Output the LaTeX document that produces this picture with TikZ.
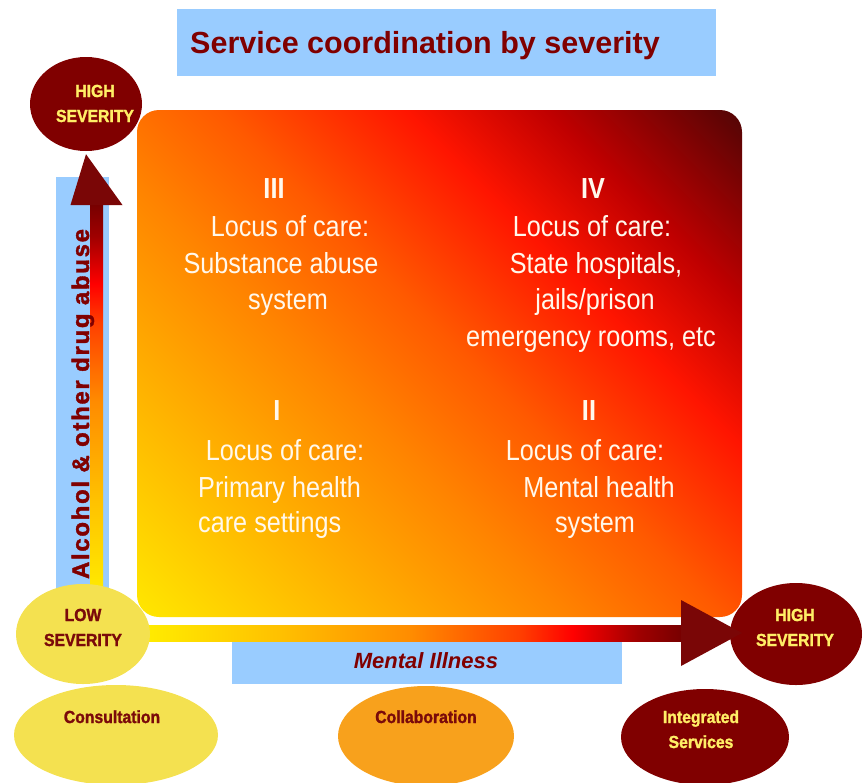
\documentclass[tikz,border=0pt]{standalone}
\usepackage{fontspec}
\setmainfont{Liberation Sans}
\newfontfamily\quadfont[FakeStretch=0.87]{Liberation Sans}
\newfontfamily\quadbold[FakeStretch=0.87]{Liberation Sans Bold}
\newfontfamily\labfont[FakeStretch=0.9,FakeBold=1.5]{Liberation Sans Bold}
\newfontfamily\vertfont[LetterSpace=7,FakeBold=1.5]{Liberation Sans Bold}
\usetikzlibrary{shapes.geometric}
\definecolor{mar}{HTML}{800000}
\definecolor{headc}{HTML}{7A0606}
\definecolor{skyb}{HTML}{99CCFF}
\definecolor{ylab}{HTML}{FFEE66}
\definecolor{pale}{HTML}{F4E150}
\definecolor{orng}{HTML}{F8A11C}
\definecolor{wtxt}{HTML}{FFF8EC}
\definecolor{dtxt}{HTML}{7A0A0A}
\definecolor{ga}{HTML}{FFE600}
\definecolor{gb}{HTML}{FFB000}
\definecolor{gc}{HTML}{FF8400}
\definecolor{gd}{HTML}{FF5A00}
\definecolor{ge}{HTML}{FF1500}
\definecolor{gf}{HTML}{C00000}
\definecolor{gg}{HTML}{550505}
\definecolor{aa}{HTML}{FFEE00}
\definecolor{ab}{HTML}{FFC000}
\definecolor{ac}{HTML}{FF8C00}
\definecolor{ad}{HTML}{FF4000}
\definecolor{ae}{HTML}{FF0000}
\definecolor{af}{HTML}{A00000}
\definecolor{ag}{HTML}{780000}
\pgfdeclarehorizontalshading{boxgrad}{100bp}{color(0bp)=(ga); color(15bp)=(ga); color(30bp)=(gb); color(42bp)=(gc); color(52bp)=(gd); color(64bp)=(ge); color(73bp)=(gf); color(85bp)=(gg); color(100bp)=(gg)}
\pgfdeclarehorizontalshading{hgrad}{100bp}{color(0bp)=(aa); color(25bp)=(aa); color(38bp)=(ab); color(50bp)=(ac); color(60bp)=(ad); color(65bp)=(ae); color(71bp)=(af); color(75bp)=(ag); color(100bp)=(ag)}
\pgfdeclareverticalshading{vgrad}{100bp}{color(0bp)=(aa); color(25bp)=(aa); color(38bp)=(ab); color(50bp)=(ac); color(60bp)=(ad); color(65bp)=(ae); color(71bp)=(af); color(75bp)=(ag); color(100bp)=(ag)}
\tikzset{
  quad/.style={font=\quadfont\fontsize{29}{34}\selectfont, text=wtxt, anchor=base, inner sep=0pt},
  quadnum/.style={font=\quadbold\fontsize{29}{34}\selectfont, text=wtxt, anchor=base, inner sep=0pt},
  labd/.style={font=\labfont\fontsize{17.5}{20}\selectfont, text=dtxt, anchor=base, inner sep=0pt},
  laby/.style={font=\labfont\fontsize{17.5}{20}\selectfont, text=ylab, anchor=base, inner sep=0pt},
  oval/.style={ellipse, inner sep=0pt, draw=none},
  band/.style={fill=skyb, draw=none},
}
\begin{document}
\begin{tikzpicture}[x=1pt,y=-1pt]
\useasboundingbox (0,0) rectangle (864,782);
% title
\fill[band] (177,9) rectangle (716,76);
\node[anchor=base west, inner sep=0pt, text=mar, font=\bfseries\fontsize{30.5}{36}\selectfont] (title) at (190,53) {Service coordination by severity};
% main box
\shade[shading=boxgrad, shading angle=45, rounded corners=22pt] (137,110) rectangle (742,617);
% blue strips
\fill[band] (56,177) rectangle (109,600);
\fill[band] (232,641) rectangle (622,684);
% ellipses
\node[oval, fill=mar, minimum width=112pt, minimum height=94pt] (hightl) at (86,104) {};
\node[oval, fill=mar, minimum width=132pt, minimum height=102pt] (highr) at (796,634) {};
% vertical arrow
\coordinate (vbot) at (96.5,600);
\coordinate (vbase) at (96.5,205);
\coordinate (vtip) at (hightl.south);
\shade[shading=vgrad] ([xshift=-6.5pt]vbot) rectangle ([xshift=6.5pt]vbase);
\fill[headc] ([xshift=-26pt]vbase) -- ([yshift=-3pt]vtip) -- ([xshift=26pt]vbase) -- cycle;
% horizontal arrow
\coordinate (hl) at (140,633);
\coordinate (hb) at (681,633);
\coordinate (htip) at (742,633);
\shade[shading=hgrad] ([yshift=8pt]hl) rectangle ([yshift=-8pt]hb);
\fill[headc] ([yshift=33pt]hb) -- (htip) -- ([yshift=-33pt]hb) -- cycle;
% low ellipse and bottom ellipses
\node[oval, fill=pale, minimum width=134pt, minimum height=100pt] (low) at (83,634) {};
\node[oval, fill=pale, minimum width=204pt, minimum height=100pt] (cons) at (116,735) {};
\node[oval, fill=orng, minimum width=176pt, minimum height=100pt] (coll) at (426,736) {};
\node[oval, fill=mar, minimum width=168pt, minimum height=96pt] (integ) at (705,737) {};
% axis texts
\node[anchor=base, rotate=90, inner sep=0pt, text=mar, font=\vertfont\fontsize{24}{28}\selectfont] (alc) at (89,404) {Alcohol \& other drug abuse};
\node[anchor=base, inner sep=0pt, text=mar, font=\bfseries\itshape\fontsize{22}{26}\selectfont] (mi) at (426,668) {Mental Illness};
% ellipse labels
\node[laby] (h1) at (95,97) {HIGH};
\node[laby] (h2) at (95,122) {SEVERITY};
\node[laby] (h3) at (795,621) {HIGH};
\node[laby] (h4) at (795,646) {SEVERITY};
\node[labd] (l1) at (83,621) {LOW};
\node[labd] (l2) at (83,646) {SEVERITY};
\node[labd] (c1) at (112,723) {Consultation};
\node[labd] (c2) at (426,723) {Collaboration};
\node[laby] (c3) at (701,723) {Integrated};
\node[laby] (c4) at (701,748) {Services};
% quadrant III
\node[quadnum] (q3n) at (274,198) {III};
\node[quad] (q3a) at (290,236) {Locus of care:};
\node[quad] (q3b) at (281,273) {Substance abuse};
\node[quad] (q3c) at (288,309) {system};
% quadrant IV
\node[quadnum] (q4n) at (593,198) {IV};
\node[quad] (q4a) at (592,236) {Locus of care:};
\node[quad] (q4b) at (596,273) {State hospitals,};
\node[quad] (q4c) at (595,309) {jails/prison};
\node[quad] (q4d) at (591,346) {emergency rooms, etc};
% quadrant I
\node[quadnum] (q1n) at (277,420) {I};
\node[quad] (q1a) at (285,460) {Locus of care:};
\node[quad, anchor=base west] (q1b) at (198,497) {Primary health};
\node[quad, anchor=base west] (q1c) at (198,532) {care settings};
% quadrant II
\node[quadnum] (q2n) at (589,420) {II};
\node[quad] (q2a) at (585,460) {Locus of care:};
\node[quad] (q2b) at (599,497) {Mental health};
\node[quad] (q2c) at (595,532) {system};
\end{tikzpicture}
\end{document}
